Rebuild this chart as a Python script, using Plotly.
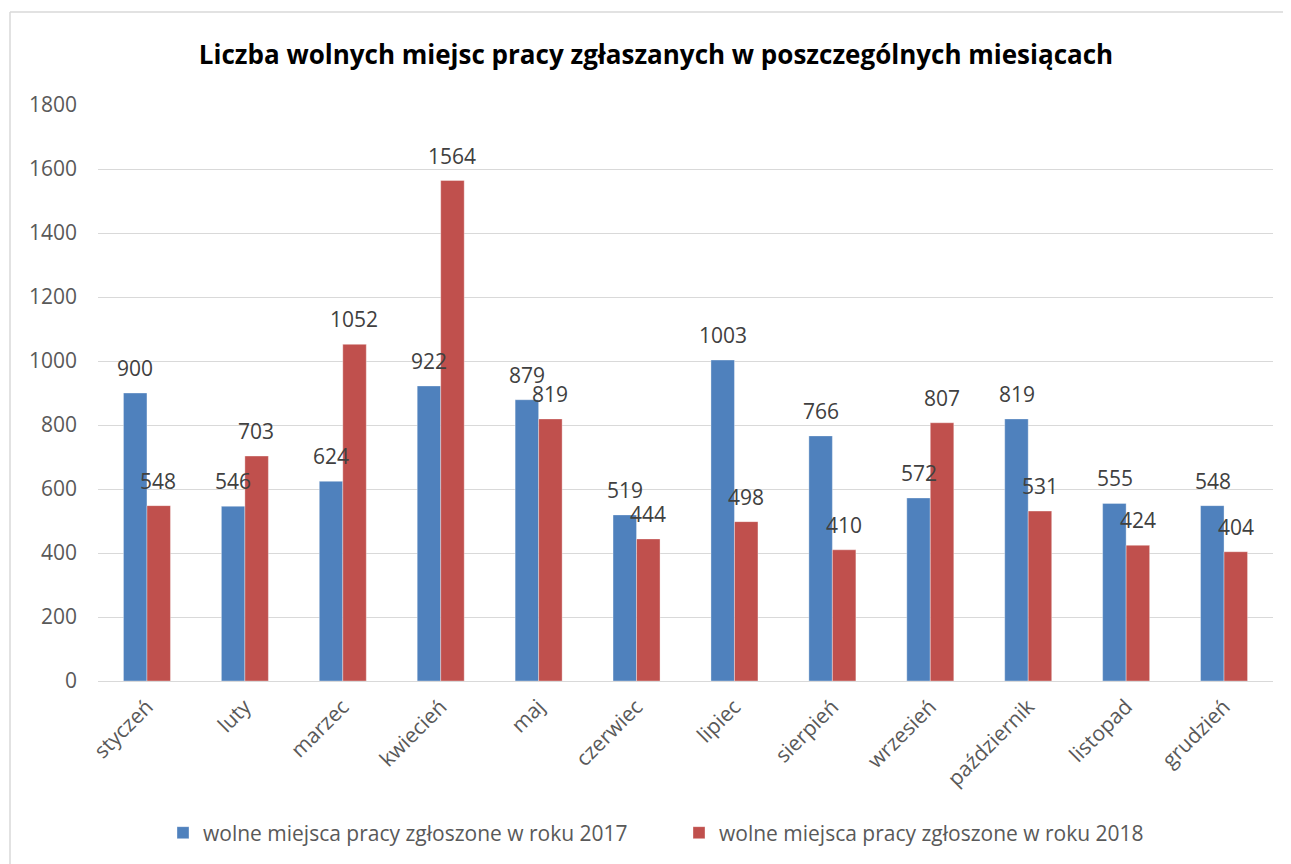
import plotly.graph_objects as go

months = ["styczeń", "luty", "marzec", "kwiecień", "maj", "czerwiec", "lipiec",
          "sierpień", "wrzesień", "październik", "listopad", "grudzień"]
values_2017 = [900, 546, 624, 922, 879, 519, 1003, 766, 572, 819, 555, 548]
values_2018 = [548, 703, 1052, 1564, 819, 444, 498, 410, 807, 531, 424, 404]
name_2017 = "wolne miejsca pracy zgłoszone w roku 2017"
name_2018 = "wolne miejsca pracy zgłoszone w roku 2018"
title = "Liczba wolnych miejsc pracy zgłaszanych w poszczególnych miesiącach"

BLUE = "#4F81BD"
RED = "#C0504D"
FONT = "Open Sans"
FS = 21

fig = go.Figure()
fig.add_trace(go.Bar(x=months, y=values_2017, name=name_2017,
                     marker=dict(color=BLUE, line=dict(color="rgba(255,255,255,0.35)", width=1))))
fig.add_trace(go.Bar(x=months, y=values_2018, name=name_2018,
                     marker=dict(color=RED, line=dict(color="rgba(255,255,255,0.35)", width=1))))

annotations = []
for series, shift in ((values_2017, -11.5), (values_2018, 11.5)):
    for m, v in zip(months, series):
        annotations.append(dict(x=m, y=v, text=str(v), showarrow=False,
                                xshift=shift, yshift=25, yanchor="middle",
                                font=dict(family=FONT, size=FS, color="#404040")))

OFF = 8  # page offset of the figure
PX_L, PX_R, PX_T, PX_B = 98, 1273, 105, 681  # plot area in page pixels
W, H = 1291 - OFF, 864 - OFF
L, T = PX_L - OFF, PX_T - OFF
pw, ph = PX_R - PX_L, PX_B - PX_T
R, B = W - L - pw, H - T - ph

def px_x(x):
    return (x - PX_L) / pw

def px_y(y):
    return (PX_B - y) / ph

border = dict(color="#D9D9D9", width=1.5)

fig.update_layout(
    width=W, height=H,
    margin=dict(l=L, r=R, t=T, b=B, autoexpand=False),
    paper_bgcolor="white", plot_bgcolor="white",
    barmode="group", bargap=0.52, bargroupgap=0,
    title=dict(text="<b>" + title + "</b>", x=(656 - OFF) / W, xanchor="center",
               xref="container", y=1 - (55 - OFF) / H, yanchor="middle",
               font=dict(family=FONT, size=26, color="black")),
    font=dict(family=FONT, size=FS, color="#595959"),
    yaxis=dict(range=[0, 1800], dtick=200, showgrid=True, gridcolor="#D9D9D9",
               gridwidth=1.3, zeroline=False, showline=False, ticks="",
               tickfont=dict(size=FS, color="#595959"), ticklabelstandoff=20,
               automargin=False),
    xaxis=dict(tickangle=-45, showline=True, linecolor="#D9D9D9", linewidth=1.3,
               ticks="", tickfont=dict(size=FS, color="#595959"), automargin=False,
               ticklabelstandoff=4),
    legend=dict(orientation="h", x=px_x(163), xanchor="left",
                y=px_y(833), yanchor="middle", font=dict(size=FS, color="#595959"),
                traceorder="normal", entrywidth=471, entrywidthmode="pixels"),
    showlegend=True,
    annotations=annotations,
    shapes=[
        dict(type="line", xref="paper", yref="paper",
             x0=px_x(10), x1=px_x(1400), y0=px_y(12), y1=px_y(12), line=border, layer="below"),
        dict(type="line", xref="paper", yref="paper",
             x0=px_x(10), x1=px_x(10), y0=px_y(12), y1=px_y(900), line=border, layer="below"),
    ],
)

fig.write_html("out.html")
